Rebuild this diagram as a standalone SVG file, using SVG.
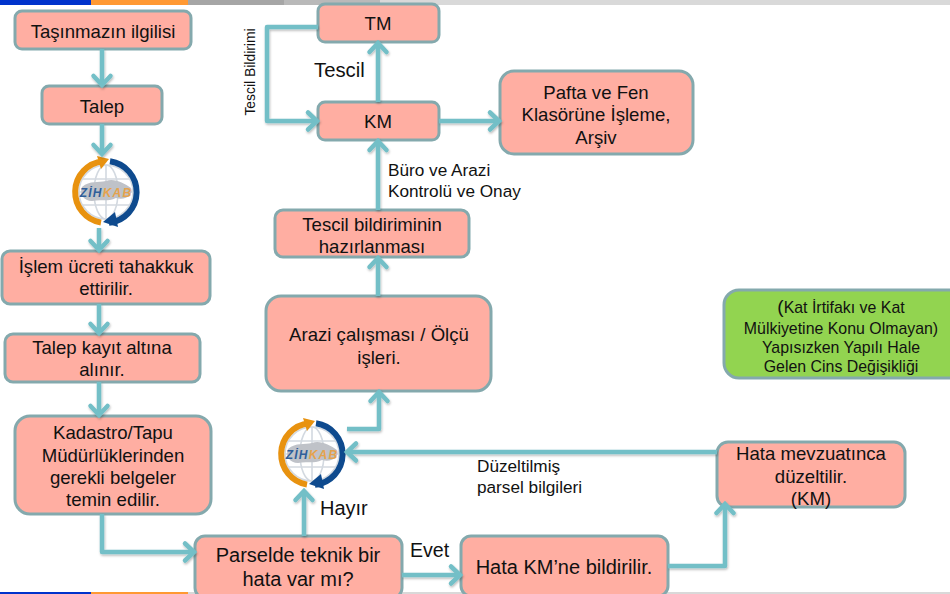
<svg xmlns="http://www.w3.org/2000/svg" width="950" height="594" viewBox="0 0 950 594">
<style>
text{font-family:"Liberation Sans",Arial,sans-serif;fill:#111;text-anchor:middle}
.n{fill:#ffaea2;stroke:#84a9ad;stroke-width:3}
.g{fill:#92d450;stroke:#84a9ad;stroke-width:3}
.c{fill:none;stroke:#73bfc7;stroke-width:4.5;stroke-linejoin:round;marker-end:url(#a)}
.t18{font-size:18.6px}
.t20{font-size:20px}
.t16{font-size:15.9px}
.t17{font-size:17.2px}
.l{text-anchor:start}
</style>
<defs>
<marker id="a" markerUnits="userSpaceOnUse" markerWidth="30" markerHeight="30" refX="14" refY="12" orient="auto" overflow="visible">
<path d="M5,3.5 L14,12 L5,20.5" fill="none" stroke="#73bfc7" stroke-width="4.5" stroke-linecap="round" stroke-linejoin="miter"/>
</marker>
<filter id="s" x="-10%" y="-10%" width="120%" height="120%"><feDropShadow dx="0.7" dy="1.5" stdDeviation="1.2" flood-color="#000" flood-opacity="0.28"/></filter>
<g id="logo">
<circle r="30" fill="#fff"/>
<g fill="none" stroke="#d3d9e0" stroke-width="1.6">
<circle r="27"/><ellipse rx="12" ry="27"/><path d="M0,-27V27M-27,0H27M-23,-13H23M-23,13H23"/>
</g>
<path d="M-24,-5C-16,-12-8,-9 0,-11C8,-14 18,-9 25,-4C28,2 20,9 10,6C2,10-6,7-14,9C-22,9-27,2-24,-5Z" fill="#bfc2c8"/>
<path d="M-5,30.6A31,31 0 0 1 -3,-30.8" fill="none" stroke="#e8920f" stroke-width="6"/>
<polygon points="3,-33 -9,-36 -5,-23" fill="#e8920f"/>
<path d="M4,-30.7A31,31 0 0 1 3,30.8" fill="none" stroke="#0e4a8e" stroke-width="6"/>
<polygon points="-3,30 9,20 12,35" fill="#0e4a8e"/>
<text x="0" y="5" style="font-size:12px;font-style:italic;font-weight:bold;letter-spacing:1.2px"><tspan fill="#2f5f9a">ZİH</tspan><tspan fill="#e5a24d">KAB</tspan></text>
</g>
</defs>
<rect width="950" height="594" fill="#fff"/>
<g id="bars">
<rect x="0" y="0" width="91" height="5" fill="#0033cc"/><rect x="91" y="0" width="97" height="5" fill="#ff9933"/><rect x="188" y="0" width="96" height="5" fill="#a6a6a6"/><rect x="284" y="0" width="96" height="5" fill="#b9b9b9"/><rect x="380" y="0" width="570" height="5" fill="#d9d9d9"/>
<rect x="0" y="592" width="91" height="2" fill="#0033cc"/><rect x="91" y="592" width="97" height="2" fill="#ff9933"/><rect x="188" y="592" width="762" height="2" fill="#d9d9d9"/>
</g>
<g id="n1"><rect class="n" x="15" y="11" width="176" height="38" rx="7"/><text class="t18" x="103" y="38">Taşınmazın ilgilisi</text></g>
<g id="n2"><rect class="n" x="42" y="86" width="120" height="38" rx="7"/><text class="t18" x="102" y="113">Talep</text></g>
<g id="logo1"><use href="#logo" x="106" y="192"/></g>
<g id="n3"><rect class="n" x="2" y="251" width="208" height="53" rx="8"/><text class="t18" x="106" y="273">İşlem ücreti tahakkuk</text><text class="t18" x="106" y="295">ettirilir.</text></g>
<g id="n4"><rect class="n" x="5" y="334" width="195" height="48" rx="8"/><text class="t18" x="102" y="354">Talep kayıt altına</text><text class="t18" x="102" y="376">alınır.</text></g>
<g id="n5"><rect class="n" x="15" y="416" width="196" height="98" rx="15"/><text class="t18" x="113" y="439">Kadastro/Tapu</text><text class="t18" x="113" y="462">Müdürlüklerinden</text><text class="t18" x="113" y="484">gerekli belgeler</text><text class="t18" x="113" y="506">temin edilir.</text></g>
<g id="n6"><rect class="n" x="195" y="536" width="207" height="62" rx="10"/><text class="t20" x="298" y="562">Parselde teknik bir</text><text class="t20" x="298" y="586">hata var mı?</text></g>
<g id="n7"><rect class="n" x="461" y="536" width="207" height="60" rx="10"/><text class="t20" x="564" y="574">Hata KM’ne bildirilir.</text></g>
<g id="n8"><rect class="n" x="717" y="442" width="188" height="65" rx="11"/><text class="t18" x="811" y="460">Hata mevzuatınca</text><text class="t18" x="811" y="483">düzeltilir.</text><text class="t18" x="811" y="505">(KM)</text></g>
<g id="logo2"><use href="#logo" x="312" y="454"/></g>
<g id="n9"><rect class="n" x="266" y="296" width="225" height="95" rx="15"/><text class="t18" x="379" y="341">Arazi çalışması / Ölçü</text><text class="t18" x="379" y="364">işleri.</text></g>
<g id="n10"><rect class="n" x="275" y="210" width="194" height="47" rx="8"/><text class="t18" x="372" y="231">Tescil bildiriminin</text><text class="t18" x="372" y="253">hazırlanması</text></g>
<g id="n11"><rect class="n" x="318" y="102" width="121" height="38" rx="7"/><text class="t18" x="378" y="128">KM</text></g>
<g id="n12"><rect class="n" x="318" y="4" width="121" height="38" rx="7"/><text class="t18" x="378" y="30">TM</text></g>
<g id="n13"><rect class="n" x="500" y="71" width="193" height="83" rx="14"/><text class="t18" x="596" y="99">Pafta ve Fen</text><text class="t18" x="596" y="121">Klasörüne İşleme,</text><text class="t18" x="596" y="144">Arşiv</text></g>
<g id="n14"><rect class="g" x="724" y="290" width="240" height="88" rx="15"/><text class="t16" x="841" y="313"><tspan font-size="19">(</tspan>Kat İrtifakı ve Kat</text><text class="t16" x="841" y="334">Mülkiyetine Konu Olmayan)</text><text class="t16" x="841" y="353">Yapısızken Yapılı Hale</text><text class="t16" x="841" y="372">Gelen Cins Değişikliği</text></g>
<g id="connectors" filter="url(#s)">
<path class="c" d="M102,49V85"/>
<path class="c" d="M102,124V154"/>
<path class="c" d="M99,228V250"/>
<path class="c" d="M99,304V333"/>
<path class="c" d="M99,382V415"/>
<path class="c" d="M102,514V552H194"/>
<path class="c" d="M304,536V491"/>
<path class="c" d="M402,575H460"/>
<path class="c" d="M668,566H725V504"/>
<path class="c" d="M717,452H347"/>
<path class="c" d="M347,429H379V392"/>
<path class="c" d="M378,296V258"/>
<path class="c" d="M378,210V141"/>
<path class="c" d="M378,102V43"/>
<path class="c" d="M439,121H499"/>
<path class="c" d="M318,27H267V121H317"/>
</g>
<g id="labels">
<text class="l" x="314" y="77" style="font-size:20.3px">Tescil</text>
<text x="255" y="72" transform="rotate(-90 255 72)" style="font-size:13.9px">Tescil Bildirimi</text>
<text class="l t17" x="388" y="176">Büro ve Arazi</text>
<text class="l t17" x="388" y="197">Kontrolü ve Onay</text>
<text class="l t17" x="477" y="472">Düzeltilmiş</text>
<text class="l t17" x="477" y="493">parsel bilgileri</text>
<text class="l" x="320" y="515" style="font-size:20px">Hayır</text>
<text class="l" x="410" y="557" style="font-size:19.6px">Evet</text>
</g>
</svg>
